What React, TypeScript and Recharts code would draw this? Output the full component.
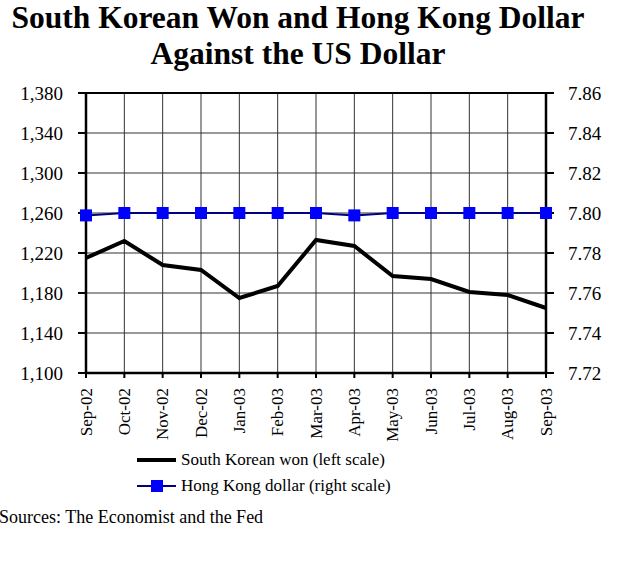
import { LineChart, Line, XAxis, YAxis, CartesianGrid, ReferenceLine } from 'recharts'

// Month labels along the bottom
const months = ['Sep-02', 'Oct-02', 'Nov-02', 'Dec-02', 'Jan-03', 'Feb-03', 'Mar-03', 'Apr-03', 'May-03', 'Jun-03', 'Jul-03', 'Aug-03', 'Sep-03']

// Won per US dollar (left scale)
const wonValues = [1215, 1232, 1208, 1203, 1175, 1187, 1233, 1227, 1197, 1194, 1181, 1178, 1165]

// HK dollar per US dollar (right scale)
const hkdValues = [7.7988, 7.8, 7.8, 7.8, 7.8, 7.8, 7.8, 7.7988, 7.8, 7.8, 7.8, 7.8, 7.8]

const leftTicks = [1100, 1140, 1180, 1220, 1260, 1300, 1340, 1380]
const rightTicks = [7.72, 7.74, 7.76, 7.78, 7.8, 7.82, 7.84, 7.86]

const FONT = '"Liberation Serif", "Times New Roman", serif'

const data = months.map((m, i) => ({ month: m, won: wonValues[i], hkd: hkdValues[i] }))

// Rotated month labels
const MonthTick = ({ x, y, payload }: any) => (
  <text
    x={x}
    y={y}
    transform={`rotate(-90, ${x}, ${y})`}
    textAnchor="end"
    dominantBaseline="central"
    fontFamily={FONT}
    fontSize={17}
    fill="#000"
  >
    {payload.value}
  </text>
)

// Blue square marker
const SquareDot = ({ cx, cy, index }: any) => (
  <rect key={`sq-${index}`} x={cx - 6} y={cy - 6} width={12} height={12} fill="#0000FF" />
)

const titleStyle: any = {
  position: 'absolute',
  left: -12,
  width: 620,
  textAlign: 'center',
  fontWeight: 'bold',
  fontSize: 31.5,
  lineHeight: '35px',
  whiteSpace: 'nowrap',
}

export default function App() {
  return (
    <div style={{ position: 'absolute', left: 0, top: 0, width: 620, height: 562, background: '#fff', fontFamily: FONT }}>
      <div style={{ ...titleStyle, top: 0 }}>South Korean Won and Hong Kong Dollar</div>
      <div style={{ ...titleStyle, top: 36 }}>Against the US Dollar</div>

      <LineChart width={620} height={562} data={data} margin={{ top: 93, right: 0, left: 0, bottom: 0 }}>
        <CartesianGrid xAxisId="x" yAxisId="left" stroke="#333" strokeWidth={1} />
        <ReferenceLine xAxisId="x" yAxisId="left" y={1380} stroke="#000" strokeWidth={2} />
        <XAxis
          xAxisId="x"
          dataKey="month"
          height={189}
          interval={0}
          tickSize={5}
          tickMargin={10}
          tick={<MonthTick />}
          axisLine={{ stroke: '#000', strokeWidth: 2.5 }}
          tickLine={{ stroke: '#000', strokeWidth: 2 }}
        />
        <YAxis
          yAxisId="left"
          orientation="left"
          width={86}
          domain={[1100, 1380]}
          ticks={leftTicks}
          interval={0}
          tickSize={8}
          tickMargin={15}
          tickFormatter={(v: number) => v.toLocaleString('en-US')}
          tick={{ fontFamily: FONT, fontSize: 19, fill: '#000' }}
          axisLine={{ stroke: '#000', strokeWidth: 2.5 }}
          tickLine={{ stroke: '#000', strokeWidth: 2 }}
        />
        <YAxis
          yAxisId="right"
          orientation="right"
          width={74}
          domain={[7.72, 7.86]}
          ticks={rightTicks}
          interval={0}
          tickSize={8}
          tickMargin={14}
          tickFormatter={(v: number) => v.toFixed(2)}
          tick={{ fontFamily: FONT, fontSize: 19, fill: '#000', textAnchor: 'start' }}
          axisLine={{ stroke: '#000', strokeWidth: 2.5 }}
          tickLine={{ stroke: '#000', strokeWidth: 2 }}
        />
        <Line
          xAxisId="x"
          yAxisId="left"
          type="linear"
          dataKey="won"
          stroke="#000"
          strokeWidth={4}
          dot={false}
          isAnimationActive={false}
        />
        <Line
          xAxisId="x"
          yAxisId="right"
          type="linear"
          dataKey="hkd"
          stroke="#000080"
          strokeWidth={2}
          dot={<SquareDot />}
          isAnimationActive={false}
        />
      </LineChart>

      {/* Legend */}
      <div style={{ position: 'absolute', left: 137, top: 447, fontSize: 17, lineHeight: '26px' }}>
        <div style={{ display: 'flex', alignItems: 'center' }}>
          <svg width={40} height={14} style={{ marginRight: 4 }}>
            <line x1={0} y1={7} x2={39} y2={7} stroke="#000" strokeWidth={4} />
          </svg>
          <span>South Korean won (left scale)</span>
        </div>
        <div style={{ display: 'flex', alignItems: 'center' }}>
          <svg width={40} height={14} style={{ marginRight: 4 }}>
            <line x1={0} y1={7} x2={39} y2={7} stroke="#000080" strokeWidth={2} />
            <rect x={14} y={1} width={12} height={12} fill="#0000FF" />
          </svg>
          <span>Hong Kong dollar (right scale)</span>
        </div>
      </div>

      <div style={{ position: 'absolute', left: -1, top: 506, fontSize: 18, lineHeight: '22px' }}>
        Sources: The Economist and the Fed
      </div>
    </div>
  )
}
